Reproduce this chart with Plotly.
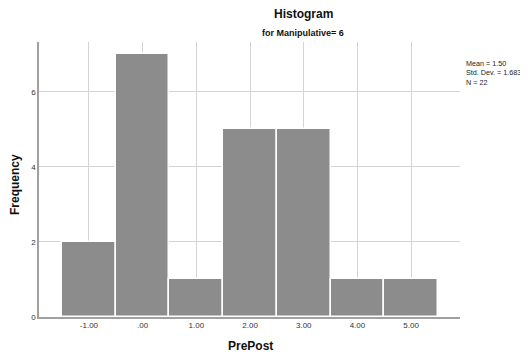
import plotly.graph_objects as go

bins = [-1, 0, 1, 2, 3, 4, 5]
tick_labels = ["-1.00", ".00", "1.00", "2.00", "3.00", "4.00", "5.00"]
counts = [2, 7, 1, 5, 5, 1, 1]
stats_lines = ["Mean = 1.50", "Std. Dev. = 1.683", "N = 22"]

font = "Liberation Sans, Arial, sans-serif"

# page body has an 8px default margin; work in page coords shifted by 8
OFF = 8
W, H = 528 - 2 * OFF, 358 - OFF
L, R, T, B = 39 - OFF, 460 - OFF, 42 - OFF, 317 - OFF
PW, PH = R - L, B - T

fig = go.Figure()
fig.add_trace(go.Bar(
    x=bins, y=counts, width=1,
    marker=dict(color="#8c8c8c", line=dict(color="white", width=1.5)),
    hoverinfo="x+y",
))

fig.update_layout(
    width=W, height=H,
    margin=dict(l=L, r=W - R, t=T, b=H - B, autoexpand=False),
    plot_bgcolor="white", paper_bgcolor="white",
    showlegend=False,
    bargap=0,
    font=dict(family=font, size=8, color="#333333"),
    xaxis=dict(
        range=[-1.93, 5.91], automargin=False,
        tickvals=bins, ticktext=tick_labels,
        showgrid=True, gridcolor="#d4d4d4", gridwidth=1,
        showline=True, linecolor="#a0a0a0", linewidth=1.5,
        ticks="", zeroline=False,
        tickfont=dict(size=8, color="#333333"),
    ),
    yaxis=dict(
        range=[0, 7.33], automargin=False,
        tickvals=[0, 2, 4, 6],
        showgrid=True, gridcolor="#d4d4d4", gridwidth=1,
        showline=True, linecolor="#a0a0a0", linewidth=1.5,
        ticks="", zeroline=False,
        tickfont=dict(size=8, color="#333333"),
    ),
)

def px(xp):
    return (xp - OFF - L) / PW

def py(yp):
    return (B - (yp - OFF)) / PH

fig.add_annotation(text="<b>Histogram</b>", xref="paper", yref="paper",
                   x=px(303), y=py(14), showarrow=False,
                   font=dict(size=12, color="#111111", family=font), xanchor="center", yanchor="middle")
fig.add_annotation(text="<b>for Manipulative= 6</b>", xref="paper", yref="paper",
                   x=px(303), y=py(33), showarrow=False,
                   font=dict(size=9, color="#111111", family=font), xanchor="center", yanchor="middle")
fig.add_annotation(text="<br>".join(stats_lines), xref="paper", yref="paper",
                   x=px(464), y=py(57), showarrow=False, align="left",
                   font=dict(size=7.2, color="#222222", family=font), xanchor="left", yanchor="top")
fig.add_annotation(text="<b>Frequency</b>", xref="paper", yref="paper",
                   x=px(15), y=py(185), showarrow=False, textangle=-90,
                   font=dict(size=12, color="#111111", family=font), xanchor="center", yanchor="middle")
fig.add_annotation(text="<b>PrePost</b>", xref="paper", yref="paper",
                   x=px(250), y=py(346), showarrow=False,
                   font=dict(size=12, color="#111111", family=font), xanchor="center", yanchor="middle")

fig.write_html("out.html")
